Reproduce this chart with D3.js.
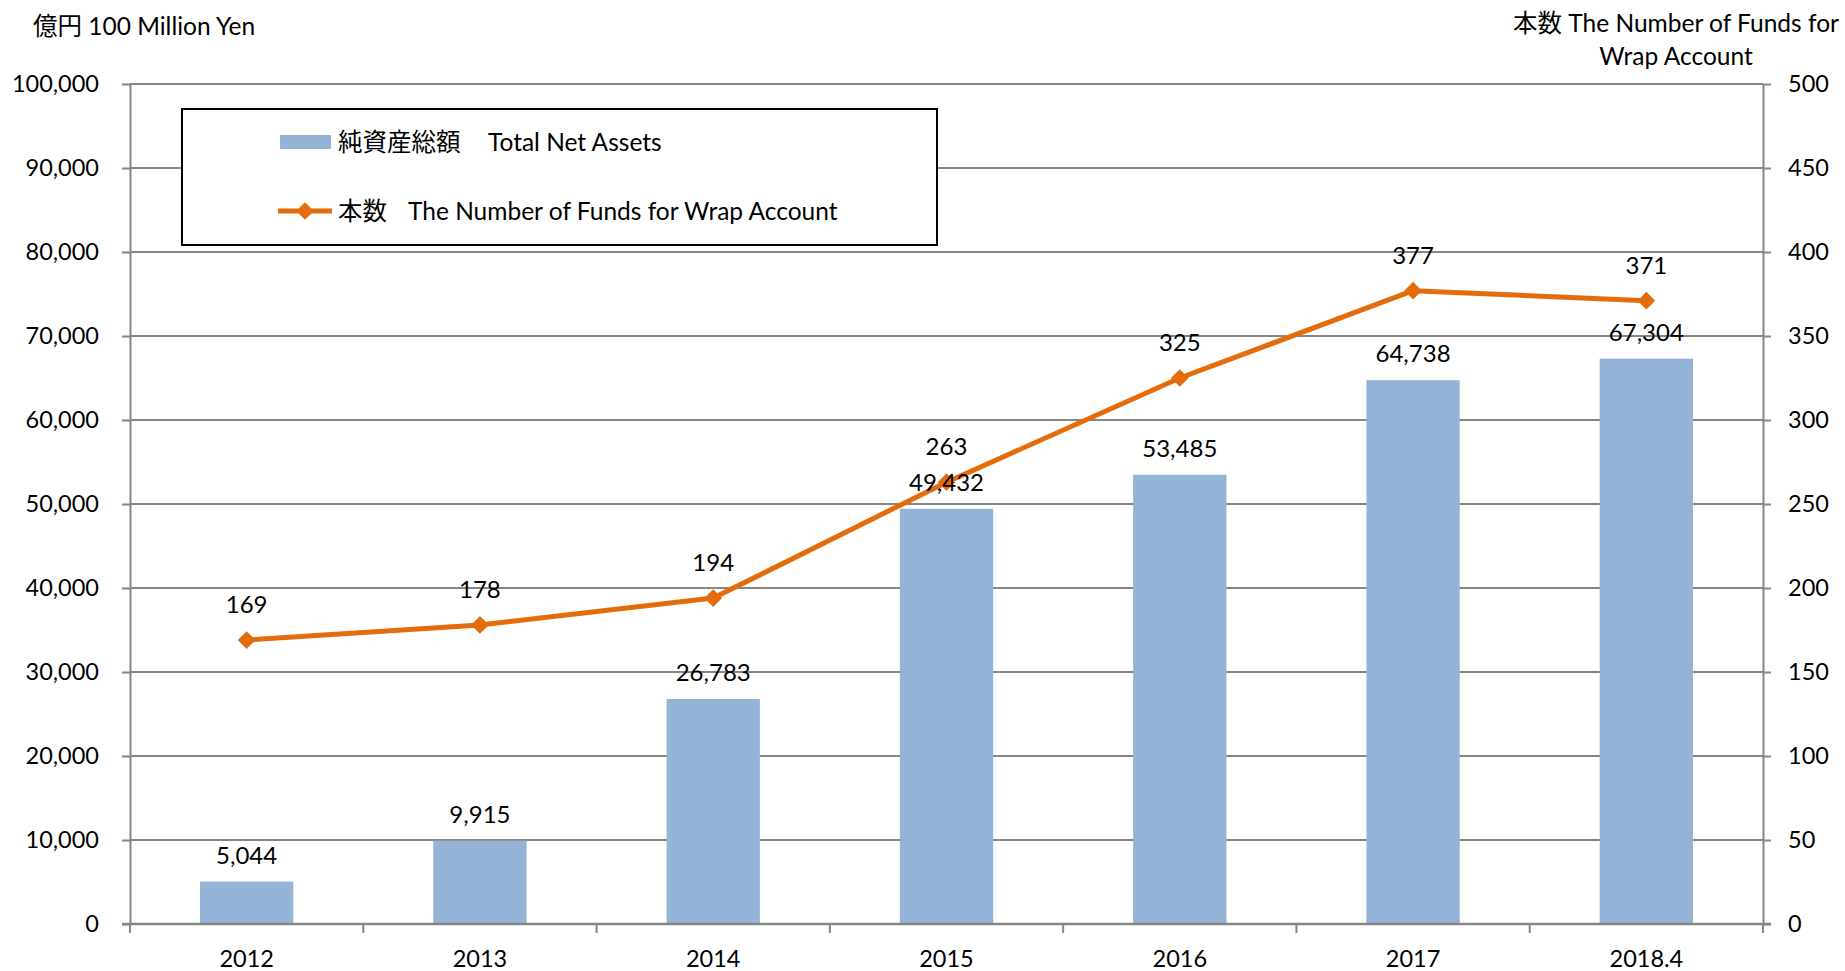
<!DOCTYPE html>
<html>
<head>
<meta charset="utf-8">
<script src="https://cdn.jsdelivr.net/npm/d3@7"></script>
<style>
  body { margin: 0; background: #fff; }
  svg text { font-family: Lato, "Noto Sans CJK JP", sans-serif; fill: #000; }
</style>
</head>
<body>
<div id="chart-area"></div>
<script>
// data
var years = ["2012", "2013", "2014", "2015", "2016", "2017", "2018.4"];
var netAssets = [5044, 9915, 26783, 49432, 53485, 64738, 67304];
var fundCount = [169, 178, 194, 263, 325, 377, 371];
var leftTicks = [0, 10000, 20000, 30000, 40000, 50000, 60000, 70000, 80000, 90000, 100000];
var rightTicks = [0, 50, 100, 150, 200, 250, 300, 350, 400, 450, 500];

var W = 1845, H = 971;
var margin = {top: 84, right: 82, bottom: 47, left: 130};
var gray = "#868686", blue = "#95B3D7", orange = "#E46C0A";

var svg = d3.select("#chart-area")
  .append("svg")
  .attr("width", W)
  .attr("height", H);

var x = d3.scaleBand()
  .domain(years)
  .range([margin.left, W - margin.right]);

var yL = d3.scaleLinear().domain([0, 100000]).range([H - margin.bottom, margin.top]);
var yR = d3.scaleLinear().domain([0, 500]).range([H - margin.bottom, margin.top]);

var fmt = d3.format(",");

// gridlines
svg.append("g")
  .selectAll("line")
  .data(leftTicks.slice(1))
  .enter()
  .append("line")
    .attr("x1", margin.left)
    .attr("x2", W - margin.right)
    .attr("y1", d => yL(d))
    .attr("y2", d => yL(d))
    .attr("stroke", gray)
    .attr("stroke-width", 2);

// left axis
var gL = svg.append("g")
  .attr("transform", "translate(" + margin.left + ",0)")
  .call(d3.axisLeft(yL).tickValues(leftTicks).tickFormat(fmt).tickSizeInner(8).tickSizeOuter(0).tickPadding(23));
gL.select(".domain").attr("stroke", gray).attr("stroke-width", 2);
gL.selectAll(".tick line").attr("stroke", gray).attr("stroke-width", 2);
gL.selectAll(".tick text").attr("font-size", 23.5).attr("fill", "#000").style("font-family", "Lato, sans-serif");

// right axis
var gR = svg.append("g")
  .attr("transform", "translate(" + (W - margin.right) + ",0)")
  .call(d3.axisRight(yR).tickValues(rightTicks).tickSizeInner(8).tickSizeOuter(0).tickPadding(17));
gR.select(".domain").attr("stroke", gray).attr("stroke-width", 2);
gR.selectAll(".tick line").attr("stroke", gray).attr("stroke-width", 2);
gR.selectAll(".tick text").attr("font-size", 23.5).attr("fill", "#000").style("font-family", "Lato, sans-serif");

// bars
svg.append("g")
  .selectAll("rect")
  .data(netAssets)
  .enter()
  .append("rect")
    .attr("x", (d, i) => x(years[i]) + x.bandwidth() * 0.3)
    .attr("width", x.bandwidth() * 0.4)
    .attr("y", d => yL(d))
    .attr("height", d => yL(0) - yL(d))
    .attr("fill", blue);

// bottom axis (ticks between categories)
var base = yL(0);
svg.append("line")
  .attr("x1", margin.left - 8).attr("x2", W - margin.right + 8)
  .attr("y1", base).attr("y2", base)
  .attr("stroke", gray).attr("stroke-width", 2.5);
var bounds = years.map(d => x(d)).concat([W - margin.right]);
svg.append("g")
  .selectAll("line")
  .data(bounds)
  .enter()
  .append("line")
    .attr("x1", d => d).attr("x2", d => d)
    .attr("y1", base).attr("y2", base + 9)
    .attr("stroke", gray).attr("stroke-width", 2);
svg.append("g")
  .selectAll("text")
  .data(years)
  .enter()
  .append("text")
    .attr("x", d => x(d) + x.bandwidth() / 2)
    .attr("y", base + 43)
    .attr("text-anchor", "middle")
    .attr("font-size", 23.5)
    .text(d => d);

// line
var line = d3.line()
  .x((d, i) => x(years[i]) + x.bandwidth() / 2)
  .y(d => yR(d));

svg.append("path")
  .datum(fundCount)
  .attr("d", line)
  .attr("fill", "none")
  .attr("stroke", orange)
  .attr("stroke-width", 5)
  .attr("stroke-linejoin", "round");

var diamond = d3.symbol().type(d3.symbolDiamond2).size(200);
svg.append("g")
  .selectAll("path")
  .data(fundCount)
  .enter()
  .append("path")
    .attr("d", diamond)
    .attr("transform", (d, i) => "translate(" + (x(years[i]) + x.bandwidth() / 2) + "," + yR(d) + ")")
    .attr("fill", orange);

// data labels
svg.append("g")
  .selectAll("text")
  .data(netAssets)
  .enter()
  .append("text")
    .attr("x", (d, i) => x(years[i]) + x.bandwidth() / 2)
    .attr("y", d => yL(d) - 18)
    .attr("text-anchor", "middle")
    .attr("font-size", 24)
    .text(d => fmt(d));

svg.append("g")
  .selectAll("text")
  .data(fundCount)
  .enter()
  .append("text")
    .attr("x", (d, i) => x(years[i]) + x.bandwidth() / 2)
    .attr("y", d => yR(d) - 27)
    .attr("text-anchor", "middle")
    .attr("font-size", 24)
    .text(d => d);

// axis titles
svg.append("text")
  .attr("x", 33).attr("y", 35)
  .attr("font-size", 24.5)
  .text("億円 100 Million Yen");

svg.append("text")
  .attr("x", 1676).attr("y", 32)
  .attr("text-anchor", "middle")
  .attr("font-size", 24.5)
  .text("本数 The Number of Funds for");
svg.append("text")
  .attr("x", 1676).attr("y", 65)
  .attr("text-anchor", "middle")
  .attr("font-size", 24.5)
  .text("Wrap Account");

// legend
var lg = svg.append("g");
lg.append("rect")
  .attr("x", 182).attr("y", 109)
  .attr("width", 755).attr("height", 136)
  .attr("fill", "#fff")
  .attr("stroke", "#000")
  .attr("stroke-width", 2);
lg.append("rect")
  .attr("x", 280).attr("y", 135)
  .attr("width", 51).attr("height", 14)
  .attr("fill", blue);
lg.append("text")
  .attr("x", 338).attr("y", 151)
  .attr("font-size", 24.5)
  .text("純資産総額");
lg.append("text")
  .attr("x", 488).attr("y", 151)
  .attr("font-size", 24.5)
  .text("Total Net Assets");
lg.append("line")
  .attr("x1", 278).attr("x2", 332)
  .attr("y1", 211).attr("y2", 211)
  .attr("stroke", orange).attr("stroke-width", 5);
lg.append("path")
  .attr("d", diamond)
  .attr("transform", "translate(305,211)")
  .attr("fill", orange);
lg.append("text")
  .attr("x", 338).attr("y", 220)
  .attr("font-size", 24.5)
  .text("本数");
lg.append("text")
  .attr("x", 408).attr("y", 220)
  .attr("font-size", 24.5)
  .text("The Number of Funds for Wrap Account");
</script>
</body>
</html>
